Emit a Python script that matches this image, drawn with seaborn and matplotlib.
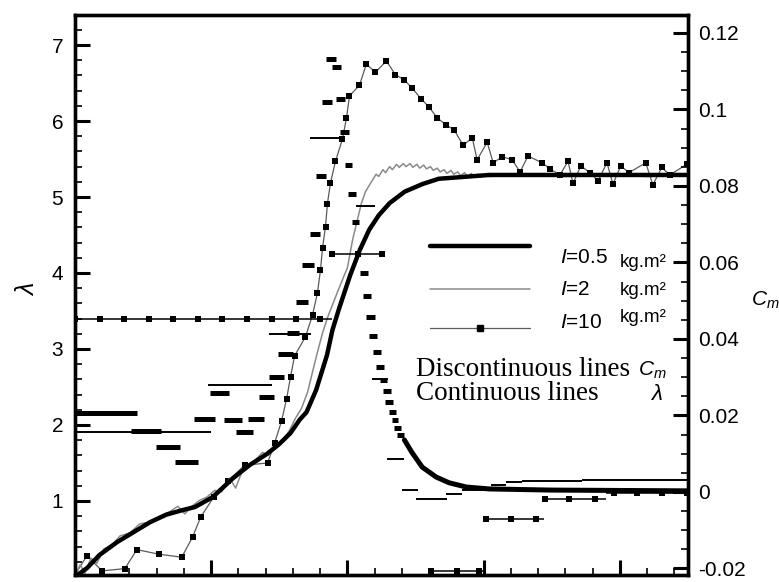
import matplotlib
matplotlib.use('Agg')
import matplotlib.pyplot as plt
import seaborn as sns
from matplotlib.lines import Line2D
from matplotlib.ticker import MultipleLocator, FuncFormatter

# ---- lambda (continuous lines, left axis) ----
t_i05 = [0, 0.09, 0.18, 0.31, 0.43, 0.55, 0.67, 0.79, 0.88, 0.95, 1.01, 1.16, 1.28, 1.41,
         1.50, 1.58, 1.65, 1.70, 1.77, 1.85, 1.89, 1.94, 2.02, 2.09, 2.16, 2.23, 2.31, 2.42,
         2.55, 2.67, 2.82, 3.04, 4.5]
lam_i05 = [0.0, 0.12, 0.29, 0.46, 0.59, 0.72, 0.82, 0.88, 0.92, 0.99, 1.05, 1.30, 1.47, 1.62,
           1.75, 1.89, 2.07, 2.17, 2.46, 2.92, 3.25, 3.54, 3.97, 4.30, 4.57, 4.76, 4.92, 5.07,
           5.17, 5.24, 5.26, 5.29, 5.29]

t_i2 = [0, 0.037, 0.073, 0.117, 0.161, 0.212, 0.271, 0.330, 0.403, 0.476, 0.549, 0.623, 0.696,
        0.755, 0.806, 0.857, 0.916, 0.967, 1.026, 1.077, 1.136, 1.179, 1.231, 1.282, 1.341,
        1.377, 1.414, 1.465, 1.524, 1.575, 1.619, 1.663, 1.707, 1.744, 1.780, 1.817, 1.853,
        1.890, 1.927, 1.963, 2.000, 2.037, 2.073, 2.103, 2.132, 2.183,
        2.21, 2.23, 2.26, 2.28, 2.31, 2.33, 2.36, 2.38, 2.41, 2.43, 2.46, 2.48, 2.51, 2.53,
        2.56, 2.58, 2.61, 2.63, 2.66, 2.68, 2.71, 2.73, 2.76, 2.78, 2.81, 2.83, 2.86, 2.88,
        2.91, 2.93, 2.96, 2.98, 3.01, 3.04, 3.3, 3.6, 3.9, 4.2, 4.5]
lam_i2 = [0, 0.16, 0.05, 0.25, 0.18, 0.37, 0.42, 0.54, 0.58, 0.70, 0.72, 0.80, 0.86,
          0.93, 0.83, 0.93, 1.01, 1.05, 1.14, 1.12, 1.30, 1.17, 1.41, 1.46, 1.57,
          1.64, 1.60, 1.71, 1.80, 1.93, 2.09, 2.22, 2.43, 2.70, 2.96, 3.21, 3.41,
          3.58, 3.75, 3.91, 4.07, 4.43, 4.70, 4.92, 5.07, 5.22,
          5.30, 5.27, 5.36, 5.32, 5.40, 5.36, 5.43, 5.39, 5.44, 5.40, 5.44, 5.39, 5.43, 5.38,
          5.42, 5.37, 5.40, 5.35, 5.38, 5.33, 5.36, 5.31, 5.35, 5.30, 5.33, 5.28, 5.32, 5.27,
          5.31, 5.27, 5.30, 5.26, 5.30, 5.27, 5.29, 5.27, 5.29, 5.27, 5.28]

t_i10 = [0, 0.088, 0.198, 0.366, 0.454, 0.615, 0.784, 0.864, 0.923, 1.018, 1.121, 1.245, 1.414,
         1.465, 1.516, 1.553, 1.582, 1.612, 1.692, 1.744, 1.780, 1.802, 1.817, 1.839, 1.853,
         1.875, 1.912, 1.963, 1.993, 2.015, 2.088, 2.139, 2.205, 2.286, 2.352, 2.418, 2.476,
         2.542, 2.601, 2.659, 2.725, 2.784, 2.850, 2.916, 2.952, 3.026, 3.070, 3.136, 3.209,
         3.267, 3.326, 3.429, 3.487, 3.560, 3.619, 3.656, 3.714, 3.780, 3.839, 3.905, 3.949,
         4.007, 4.066, 4.190, 4.242, 4.308, 4.366, 4.491]
lam_i10 = [0.03, 0.28, 0.08, 0.11, 0.36, 0.30, 0.26, 0.53, 0.79, 1.05, 1.26, 1.47, 1.50,
           1.76, 2.05, 2.34, 2.63, 2.91, 3.16, 3.45, 3.74, 4.04, 4.33, 4.61, 4.91,
           5.18, 5.47, 5.76, 6.04, 6.33, 6.47, 6.75, 6.64, 6.79, 6.61, 6.54, 6.43,
           6.29, 6.18, 6.04, 5.95, 5.88, 5.68, 5.78, 5.49, 5.72, 5.45, 5.53, 5.49,
           5.33, 5.54, 5.45, 5.37, 5.29, 5.47, 5.18, 5.41, 5.32, 5.21, 5.45, 5.17,
           5.41, 5.32, 5.45, 5.16, 5.39, 5.29, 5.43]

# ---- Cm (discontinuous lines, right axis): plateaus start / end / value ----
cm05_t0 = [0.0, 0.410, 0.593, 0.733, 0.872, 0.989, 1.092, 1.179, 1.267, 1.348, 1.421, 1.487,
           1.553, 1.619, 1.670, 1.722, 1.766, 1.810, 1.846, 1.883, 1.919, 1.949, 1.985, 2.007,
           2.037, 2.095, 2.117, 2.139, 2.161, 2.190, 2.212, 2.242, 2.264, 2.278, 2.308, 2.330,
           2.344, 2.366]
cm05_t1 = [0.454, 0.630, 0.769, 0.901, 1.026, 1.128, 1.223, 1.304, 1.385, 1.458, 1.531, 1.597,
           1.648, 1.707, 1.751, 1.802, 1.846, 1.883, 1.919, 1.956, 1.985, 2.015, 2.037, 2.066,
           2.088, 2.154, 2.176, 2.205, 2.220, 2.249, 2.271, 2.293, 2.322, 2.337, 2.359, 2.374,
           2.396, 2.418]
cm05_v = [0.0207, 0.0159, 0.0118, 0.0078, 0.0191, 0.0259, 0.0188, 0.0157, 0.0191, 0.0248,
          0.0301, 0.0361, 0.0416, 0.0497, 0.0593, 0.0674, 0.0826, 0.1019, 0.1132, 0.1111,
          0.1027, 0.0941, 0.0855, 0.0779, 0.0706, 0.0572, 0.0512, 0.0457, 0.0408, 0.0366,
          0.0327, 0.0293, 0.0264, 0.0235, 0.0209, 0.0188, 0.0167, 0.0149]
cm05_tail_t = [2.418, 2.476, 2.549, 2.652, 2.747, 2.872, 3.040, 3.5, 4.0, 4.5]
cm05_tail = [0.0136, 0.0102, 0.0065, 0.0039, 0.0024, 0.0013, 0.0008, 0.0005, 0.0004, 0.0003]

cm2_t0 = [0.0, 0.974, 1.421, 1.722, 2.066, 2.183, 2.293, 2.403, 2.505, 2.725, 2.842, 3.055,
          3.165, 3.282, 3.722]
cm2_t1 = [0.996, 1.443, 1.736, 1.963, 2.205, 2.300, 2.418, 2.520, 2.733, 2.842, 3.055, 3.165,
          3.282, 3.722, 4.5]
cm2_v = [0.0157, 0.0280, 0.0413, 0.0925, 0.0748, 0.0295, 0.0086, 0.0005, -0.0018, -0.0005,
         0.0005, 0.0018, 0.0026, 0.0029, 0.0031]

cm10_t0 = [0.0, 1.890, 2.600, 3.004, 3.436, 3.898]
cm10_t1 = [1.890, 2.257, 3.004, 3.443, 3.898, 4.5]
cm10_v = [0.0452, 0.0622, -0.0207, -0.0071, -0.0018, -0.0003]
cm10_mark_t = [0, 0.183, 0.359, 0.542, 0.718, 0.901, 1.077, 1.260, 1.443, 1.619, 1.802,
               1.890, 2.081, 2.257, 2.615, 2.806, 2.967, 3.018, 3.201, 3.385,
               3.451, 3.626, 3.817, 3.956, 4.125, 4.308, 4.491]
cm10_mark_v = [0.0452, 0.0452, 0.0452, 0.0452, 0.0452, 0.0452, 0.0452, 0.0452, 0.0452, 0.0452,
               0.0452, 0.0622, 0.0622, 0.0622, -0.0207, -0.0207, -0.0207, -0.0071, -0.0071,
               -0.0071, -0.0018, -0.0018, -0.0018, -0.0003, -0.0003, -0.0003, -0.0003]

legend_labels = ['0.5', '2', '10']

sns.set_theme(style='ticks')
plt.rcParams['font.family'] = ['Liberation Sans', 'DejaVu Sans']
plt.rcParams['mathtext.fontset'] = 'custom'
plt.rcParams['mathtext.it'] = 'Liberation Sans:italic'
plt.rcParams['mathtext.rm'] = 'Liberation Sans'

fig = plt.figure(figsize=(7.79, 5.82), dpi=100)
ax = fig.add_axes([75 / 779, 7 / 582, 613 / 779, 560 / 582])
ax2 = ax.twinx()

# lambda curves
sns.lineplot(x=t_i10, y=lam_i10, ax=ax, sort=False, estimator=None, color='#5a5a5a', lw=0.9,
             marker='s', markersize=5, markerfacecolor='black', markeredgecolor='black',
             markeredgewidth=0, legend=False)
sns.lineplot(x=t_i2, y=lam_i2, ax=ax, sort=False, estimator=None, color='#8a8a8a', lw=1.1,
             legend=False)
sns.lineplot(x=t_i05, y=lam_i05, ax=ax, sort=False, estimator=None, color='black', lw=3.2,
             legend=False)

# Cm plateaus
ax2.hlines(cm05_v, cm05_t0, cm05_t1, color='black', lw=3.6)
sns.lineplot(x=cm05_tail_t, y=cm05_tail, ax=ax2, sort=False, estimator=None, color='black',
             lw=3.6, legend=False)
ax2.hlines(cm2_v, cm2_t0, cm2_t1, color='black', lw=1.4)
ax2.hlines(cm10_v, cm10_t0, cm10_t1, color='black', lw=1.1)
sns.scatterplot(x=cm10_mark_t, y=cm10_mark_v, ax=ax2, marker='s', s=25, color='black',
                linewidth=0, legend=False)

# axes
ax.set_xlim(0, 4.5)
ax.set_ylim(0.026, 7.395)
ax2.set_ylim(-0.0217, 0.1247)
ax.xaxis.set_major_locator(MultipleLocator(1))
ax.xaxis.set_minor_locator(MultipleLocator(0.2))
ax.yaxis.set_major_locator(MultipleLocator(1))
ax.yaxis.set_minor_locator(MultipleLocator(0.2))
ax2.yaxis.set_major_locator(MultipleLocator(0.02))
ax2.yaxis.set_minor_locator(MultipleLocator(0.005))
ax2.yaxis.set_major_formatter(FuncFormatter(lambda v, _: '0' if abs(v) < 1e-9 else f'{round(v, 4):g}'))

ax.tick_params(axis='x', which='both', direction='in', top=False, labelbottom=False, color='black')
ax.tick_params(axis='y', which='both', direction='in', left=True, right=False, labelsize=15,
               pad=8.5, color='black', labelcolor='black')
ax2.tick_params(axis='y', which='both', direction='in', right=True, labelsize=15, pad=7,
                color='black', labelcolor='black')
for a in (ax, ax2):
    a.tick_params(which='major', length=11, width=2.2)
    a.tick_params(which='minor', length=5, width=1.2)
    for s in a.spines.values():
        s.set_linewidth(2.4)
        s.set_color('black')
        s.set_visible(True)
ax.set_xlabel('')
ax2.set_xlabel('')

ax.set_ylabel(r'$\lambda$', fontsize=18, color='black', va='center')
ax.yaxis.set_label_coords(-0.078, 0.51)
ax2.set_ylabel('$C_m$', fontsize=15, rotation=0, color='black', ha='center', va='center')
ax2.yaxis.set_label_coords(1.126, 0.491)

# legend drawn inside the axes
rows_y = [0.5875, 0.5107, 0.4411]
styles = [dict(color='black', lw=3.2), dict(color='#8a8a8a', lw=1.1), dict(color='#5a5a5a', lw=0.9)]
for yy, st in zip(rows_y, styles):
    ax.add_line(Line2D([0.579, 0.742], [yy, yy], transform=ax.transAxes, **st))
ax.add_line(Line2D([0.661], [0.4411], transform=ax.transAxes, marker='s', markersize=5,
                   color='black', lw=0))
lab_base = [0.557, 0.500, 0.441]
unit_base = [0.5505, 0.500, 0.452]
for lab, yb, yu in zip(legend_labels, lab_base, unit_base):
    ax.text(0.791, yb, f'$I$={lab}', transform=ax.transAxes, fontsize=15, va='baseline', color='black')
    ax.text(0.889, yu, 'kg.m²', transform=ax.transAxes, fontsize=13.5, va='baseline', color='black')

serif = ['Liberation Serif', 'DejaVu Serif']
ax.text(0.556, 0.3554, 'Discontinuous lines', transform=ax.transAxes, fontsize=19.5,
        family=serif, va='baseline', color='black')
ax.text(0.918, 0.3554, '$C_m$', transform=ax.transAxes, fontsize=15, va='baseline', color='black')
ax.text(0.556, 0.3125, 'Continuous lines', transform=ax.transAxes, fontsize=19.5,
        family=serif, va='baseline', color='black')
ax.text(0.938, 0.3125, r'$\lambda$', transform=ax.transAxes, fontsize=16, va='baseline', color='black')

fig.savefig('out.png', dpi=100)
